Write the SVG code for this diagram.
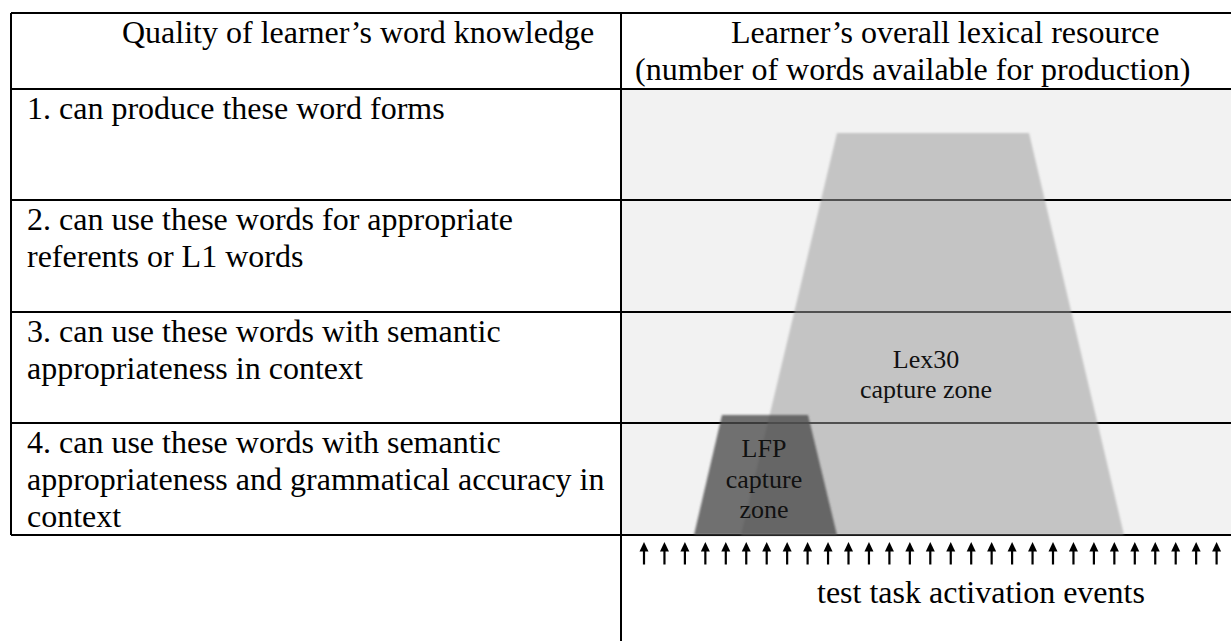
<svg xmlns="http://www.w3.org/2000/svg" width="1231" height="641" viewBox="0 0 1231 641">
<defs>
<style>
.t{font-family:"Liberation Serif","Times New Roman",serif;font-size:32px;fill:#000}
.z{font-family:"Liberation Serif","Times New Roman",serif;font-size:26px;fill:#111;text-anchor:middle}
.ln{stroke:#000;stroke-width:2;fill:none}
.soft{filter:url(#soft)}
</style>
<filter id="soft" x="-5%" y="-5%" width="110%" height="110%"><feGaussianBlur stdDeviation="1.3"/></filter>
<g id="arr"><path d="M0,0 L-4.5,9.5 L4.5,9.5 Z"/><rect x="-1.1" y="7" width="2.2" height="15.5"/></g>
</defs>
<rect width="1231" height="641" fill="#fff"/>
<g id="table">
<rect x="622" y="89" width="609" height="446" fill="#f2f2f2"/>
<path class="ln" d="M11,13H1231M11,89H1231M11,200H1231M11,312H1231M11,423H1231M11,535H1231M11,13V535M621,13V641"/>
</g>
<g id="lex30-zone">
<polygon class="soft" points="837,133 1029,133 1124,535 741,535" fill="#999" fill-opacity="0.52"/>
<text class="z" x="926" y="368">Lex30</text>
<text class="z" x="926" y="398">capture zone</text>
</g>
<g id="lfp-zone">
<polygon class="soft" points="722,415 808,415 837,535 694,535" fill="#4a4a4a" fill-opacity="0.78"/>
<text class="z" x="764" y="457">LFP</text>
<text class="z" x="764" y="488">capture</text>
<text class="z" x="764" y="518">zone</text>
</g>
<g id="header-left"><text class="t" x="122" y="43">Quality of learner’s word knowledge</text></g>
<g id="header-right">
<text class="t" x="731" y="43">Learner’s overall lexical resource</text>
<text class="t" x="635" y="80">(number of words available for production)</text>
</g>
<g id="row1"><text class="t" x="27" y="119">1. can produce these word forms</text></g>
<g id="row2">
<text class="t" x="27" y="230">2. can use these words for appropriate</text>
<text class="t" x="27" y="267">referents or L1 words</text>
</g>
<g id="row3">
<text class="t" x="27" y="342">3. can use these words with semantic</text>
<text class="t" x="27" y="379">appropriateness in context</text>
</g>
<g id="row4">
<text class="t" x="27" y="453">4. can use these words with semantic</text>
<text class="t" x="27" y="490">appropriateness and grammatical accuracy in</text>
<text class="t" x="27" y="527">context</text>
</g>
<g id="connectors">
<use href="#arr" x="644" y="542"/><use href="#arr" x="664.45" y="542"/><use href="#arr" x="684.9" y="542"/><use href="#arr" x="705.35" y="542"/><use href="#arr" x="725.8" y="542"/><use href="#arr" x="746.25" y="542"/><use href="#arr" x="766.7" y="542"/><use href="#arr" x="787.15" y="542"/><use href="#arr" x="807.6" y="542"/><use href="#arr" x="828.05" y="542"/><use href="#arr" x="848.5" y="542"/><use href="#arr" x="868.95" y="542"/><use href="#arr" x="889.4" y="542"/><use href="#arr" x="909.85" y="542"/><use href="#arr" x="930.3" y="542"/><use href="#arr" x="950.75" y="542"/><use href="#arr" x="971.2" y="542"/><use href="#arr" x="991.65" y="542"/><use href="#arr" x="1012.1" y="542"/><use href="#arr" x="1032.55" y="542"/><use href="#arr" x="1053" y="542"/><use href="#arr" x="1073.45" y="542"/><use href="#arr" x="1093.9" y="542"/><use href="#arr" x="1114.35" y="542"/><use href="#arr" x="1134.8" y="542"/><use href="#arr" x="1155.25" y="542"/><use href="#arr" x="1175.7" y="542"/><use href="#arr" x="1196.15" y="542"/><use href="#arr" x="1216.6" y="542"/>
</g>
<g id="caption"><text class="t" x="817" y="603">test task activation events</text></g>
</svg>
